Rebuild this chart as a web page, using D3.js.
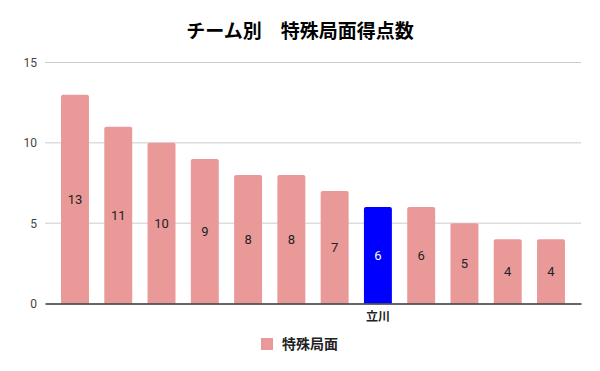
<!DOCTYPE html>
<html lang="ja">
<head>
  <meta charset="UTF-8">
  <title>チーム別 特殊局面得点数</title>
  <script src="https://cdn.jsdelivr.net/npm/d3@7"></script>
  <style>
    body{ margin:0; background:#fff; }
    svg{ font-family: "Noto Sans CJK JP", Roboto, sans-serif; }
  </style>
</head>
<body>
<div class="chart"></div>
<script>
const teams = ['t1','t2','t3','t4','t5','t6','t7','立川','t9','t10','t11','t12'];
const tickLabels = ['', '', '', '', '', '', '', '立川', '', '', '', ''];
const values = [13, 11, 10, 9, 8, 8, 7, 6, 6, 5, 4, 4];
const highlight = ['立川'];
const yTicks = [0, 5, 10, 15];

const W = 600, H = 371;
const margin = {top: 62.5, right: 19, bottom: 67.5, left: 45};
const width = W - margin.left - margin.right;
const height = H - margin.top - margin.bottom;

const svg = d3.select('.chart').append('svg')
  .attr('width', W).attr('height', H);

svg.append('text')
  .attr('x', W / 2).attr('y', 38)
  .attr('text-anchor', 'middle')
  .attr('font-size', 19).attr('font-weight', 'bold').attr('fill', '#000')
  .text('チーム別　特殊局面得点数');

const g = svg.append('g').attr('transform', `translate(${margin.left},${margin.top})`);

const x = d3.scaleBand().domain(teams).range([0, width]).paddingInner(0.354).paddingOuter(0.37);
const y = d3.scaleLinear().domain([0, 15]).range([height, 0]);

// grid
g.selectAll('.grid').data(yTicks.filter(d => d > 0)).join('line')
  .attr('x1', 0).attr('x2', width)
  .attr('y1', d => y(d)).attr('y2', d => y(d))
  .attr('stroke', '#cccccc').attr('stroke-width', 1);

const yAxis = g.append('g').call(d3.axisLeft(y).tickValues(yTicks).tickSize(0).tickPadding(8));
yAxis.select('.domain').remove();
yAxis.selectAll('text').attr('font-size', 12).attr('fill', '#444')
  .attr('font-family', 'Roboto, sans-serif');

// bars with slightly rounded top
const r = 2;
g.selectAll('.bar').data(values).join('path')
  .attr('fill', (d, i) => highlight.includes(teams[i]) ? '#0000ff' : '#ea9999')
  .attr('d', (d, i) => {
    const x0 = x(teams[i]), w = x.bandwidth(), y0 = y(d), y1 = y(0);
    return `M${x0},${y1}V${y0 + r}Q${x0},${y0} ${x0 + r},${y0}H${x0 + w - r}Q${x0 + w},${y0} ${x0 + w},${y0 + r}V${y1}Z`;
  });

g.selectAll('.lbl').data(values).join('text')
  .attr('x', (d, i) => x(teams[i]) + x.bandwidth() / 2)
  .attr('y', d => (y(d) + y(0)) / 2 + 4.5)
  .attr('text-anchor', 'middle')
  .attr('font-size', 13).attr('font-family', 'Roboto, sans-serif')
  .attr('fill', (d, i) => highlight.includes(teams[i]) ? '#ffffff' : '#222')
  .text(d => d);

// baseline + x labels
const xAxis = g.append('g').attr('transform', `translate(0,${height})`)
  .call(d3.axisBottom(x).tickSize(0).tickPadding(9).tickFormat((d, i) => tickLabels[i]));
xAxis.select('.domain').attr('stroke', '#333').attr('stroke-width', 1.3);
xAxis.selectAll('text').attr('font-size', 12).attr('font-weight', 'bold').attr('fill', '#222')
  .attr('font-family', '"Noto Sans CJK JP", sans-serif');

// legend
const lg = svg.append('g').attr('transform', 'translate(261,338)');
lg.append('rect').attr('width', 12).attr('height', 12).attr('fill', '#ea9999');
lg.append('text').attr('x', 21).attr('y', 11)
  .attr('font-size', 14).attr('font-weight', 'bold').attr('fill', '#222')
  .text('特殊局面');
</script>
</body>
</html>
